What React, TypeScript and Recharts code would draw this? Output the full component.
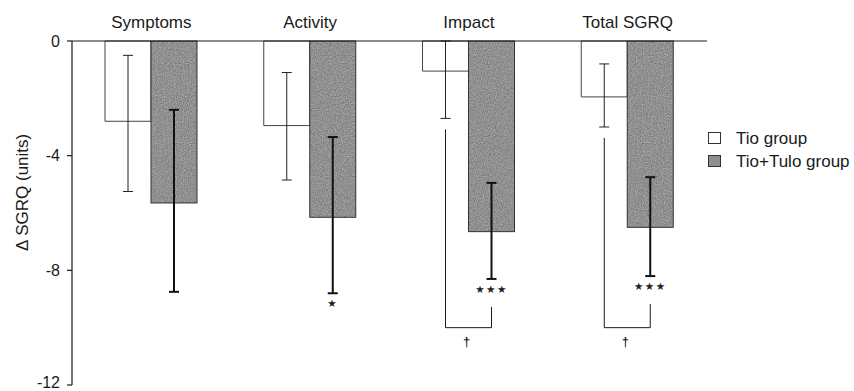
import React from "react";
import { BarChart, Bar, XAxis, YAxis, ErrorBar, Legend } from "recharts";

const categories = ["Symptoms", "Activity", "Impact", "Total SGRQ"];
const tioMean = [-2.8, -2.95, -1.05, -1.95];
const tioLow = [-5.25, -4.85, -2.7, -3.0];
const tioHigh = [-0.5, -1.1, 0, -0.8];
const tuloMean = [-5.65, -6.15, -6.65, -6.5];
const tuloLow = [-8.75, -8.8, -8.3, -8.2];
const tuloHigh = [-2.4, -3.35, -4.95, -4.75];
// stars: change from baseline, dagger: Tio vs Tio+Tulo
const starMarks = ["", "*", "***", "***"];
const daggerMarks = ["", "", "†", "†"];
const yTicks = [0, -4, -8, -12];
const bracketLevel = -10;

const FONT = "'Liberation Sans', Arial, Helvetica, sans-serif";
const INK = "#1a1a1a";
const GREY = "#8f8f8f";

const data = categories.map((name, i) => ({
  name,
  idx: i,
  tio: tioMean[i],
  tioErr: [tioMean[i] - tioLow[i], tioHigh[i] - tioMean[i]],
  tulo: tuloMean[i],
  tuloErr: [tuloMean[i] - tuloLow[i], tuloHigh[i] - tuloMean[i]],
  tioLow: tioLow[i],
  tuloLow: tuloLow[i],
  stars: starMarks[i],
  dagger: daggerMarks[i],
}));

// printed halftone grain for the grey fill
function GrainFilter({ id, seed }: { id: string; seed: number }) {
  return (
    <filter id={id} x="0" y="0" width="1" height="1" colorInterpolationFilters="sRGB">
      <feTurbulence type="fractalNoise" baseFrequency="0.85" numOctaves={2} seed={seed} result="noise" />
      <feColorMatrix
        in="noise"
        type="matrix"
        values="0.33 0.33 0.33 0 0  0.33 0.33 0.33 0 0  0.33 0.33 0.33 0 0  0 0 0 0 1"
        result="grey"
      />
      <feComponentTransfer in="grey" result="tone">
        <feFuncR type="linear" slope={0.6} intercept={0.27} />
        <feFuncG type="linear" slope={0.6} intercept={0.27} />
        <feFuncB type="linear" slope={0.6} intercept={0.27} />
      </feComponentTransfer>
      <feComposite in="tone" in2="SourceGraphic" operator="in" />
    </filter>
  );
}

// grey bar plus the significance marks hanging under it
function TuloBar(props: any) {
  const { x, y, width, height, payload } = props;
  const top = Math.min(y, y + height);
  const bottom = Math.max(y, y + height);
  const perUnit = (bottom - top) / -payload.tulo;
  const py = (v: number) => top - v * perUnit;
  const cx = x + width / 2;
  const tioCx = x - width / 2;
  const low = py(payload.tuloLow);
  const nStars = payload.stars.length;
  const fid = `grain-${payload.idx}`;

  return (
    <g>
      <defs>
        <GrainFilter id={fid} seed={payload.idx + 3} />
      </defs>
      <rect x={x} y={top} width={width} height={bottom - top} fill="#000" filter={`url(#${fid})`} />
      <rect
        x={x}
        y={top}
        width={width}
        height={bottom - top}
        fill="none"
        stroke="#333"
        strokeWidth={1}
      />
      {nStars > 0 && (
        <text
          x={cx}
          y={low + 10}
          textAnchor="middle"
          dominantBaseline="central"
          fontSize={10.5}
          letterSpacing={1.5}
          fontFamily="'DejaVu Sans', sans-serif"
          fill="#222"
        >
          {"★".repeat(nStars)}
        </text>
      )}
      {payload.dagger && (
        <g>
          <path
            d={`M${tioCx},${py(payload.tioLow) + 11} V${py(bracketLevel)} H${cx} V${low + 28}`}
            fill="none"
            stroke={INK}
            strokeWidth={1}
          />
          <text
            x={(tioCx + cx) / 2 - 2}
            y={py(bracketLevel) + 14}
            textAnchor="middle"
            dominantBaseline="central"
            fontSize={13}
            fontFamily={FONT}
            fill="#000"
          >
            {payload.dagger}
          </text>
        </g>
      )}
    </g>
  );
}

function YLabel(props: any) {
  const vb = props.viewBox;
  const cx = vb.x + 11;
  const cy = vb.y + vb.height * 0.44;
  return (
    <text
      x={cx}
      y={cy}
      transform={`rotate(-90 ${cx} ${cy})`}
      textAnchor="middle"
      dominantBaseline="central"
      fontSize={17}
      fontFamily={FONT}
      fill={INK}
    >
      Δ SGRQ (units)
    </text>
  );
}

function LegendBox() {
  const rows = [
    { label: "Tio group", fill: "#fff" },
    { label: "Tio+Tulo group", fill: GREY },
  ];
  return (
    <div style={{ fontFamily: FONT, fontSize: 17, color: INK }}>
      {rows.map((r) => (
        <div
          key={r.label}
          style={{ display: "flex", alignItems: "center", height: 23, whiteSpace: "nowrap" }}
        >
          <svg width={14} height={13} style={{ marginRight: 14 }}>
            <rect x={0.5} y={0.5} width={12} height={11} fill={r.fill} stroke="#333" />
          </svg>
          {r.label}
        </div>
      ))}
    </div>
  );
}

export default function App() {
  return (
    <div
      style={{
        position: "absolute",
        left: 0,
        top: 0,
        width: 854,
        height: 391,
        background: "#fff",
      }}
    >
      <BarChart
        width={854}
        height={391}
        data={data}
        margin={{ top: 11, right: 147, bottom: 6, left: 12 }}
        barGap={0}
        barSize={46}
      >
        <XAxis
          dataKey="name"
          orientation="top"
          height={30}
          interval={0}
          tickLine={false}
          tickMargin={7}
          axisLine={{ stroke: INK, strokeWidth: 1.2 }}
          tick={{ fontSize: 17, fill: INK, fontFamily: FONT }}
        />
        <YAxis
          type="number"
          domain={[-12, 0]}
          ticks={yTicks}
          width={60}
          tickSize={5}
          tickMargin={7}
          axisLine={{ stroke: INK, strokeWidth: 1.2 }}
          tickLine={{ stroke: INK, strokeWidth: 1.2 }}
          tick={{ fontSize: 16, fill: INK, fontFamily: FONT }}
          label={<YLabel />}
        />
        <Bar dataKey="tio" fill="#fff" stroke="#444" strokeWidth={1} isAnimationActive={false}>
          <ErrorBar dataKey="tioErr" width={5} stroke="#222" strokeWidth={1} isAnimationActive={false} />
        </Bar>
        <Bar dataKey="tulo" shape={TuloBar} isAnimationActive={false}>
          <ErrorBar dataKey="tuloErr" width={5} stroke="#111" strokeWidth={2} isAnimationActive={false} />
        </Bar>
        <Legend
          layout="vertical"
          align="center"
          verticalAlign="middle"
          content={<LegendBox />}
          wrapperStyle={{ left: 708, top: 127, width: 146 }}
        />
      </BarChart>
    </div>
  );
}
